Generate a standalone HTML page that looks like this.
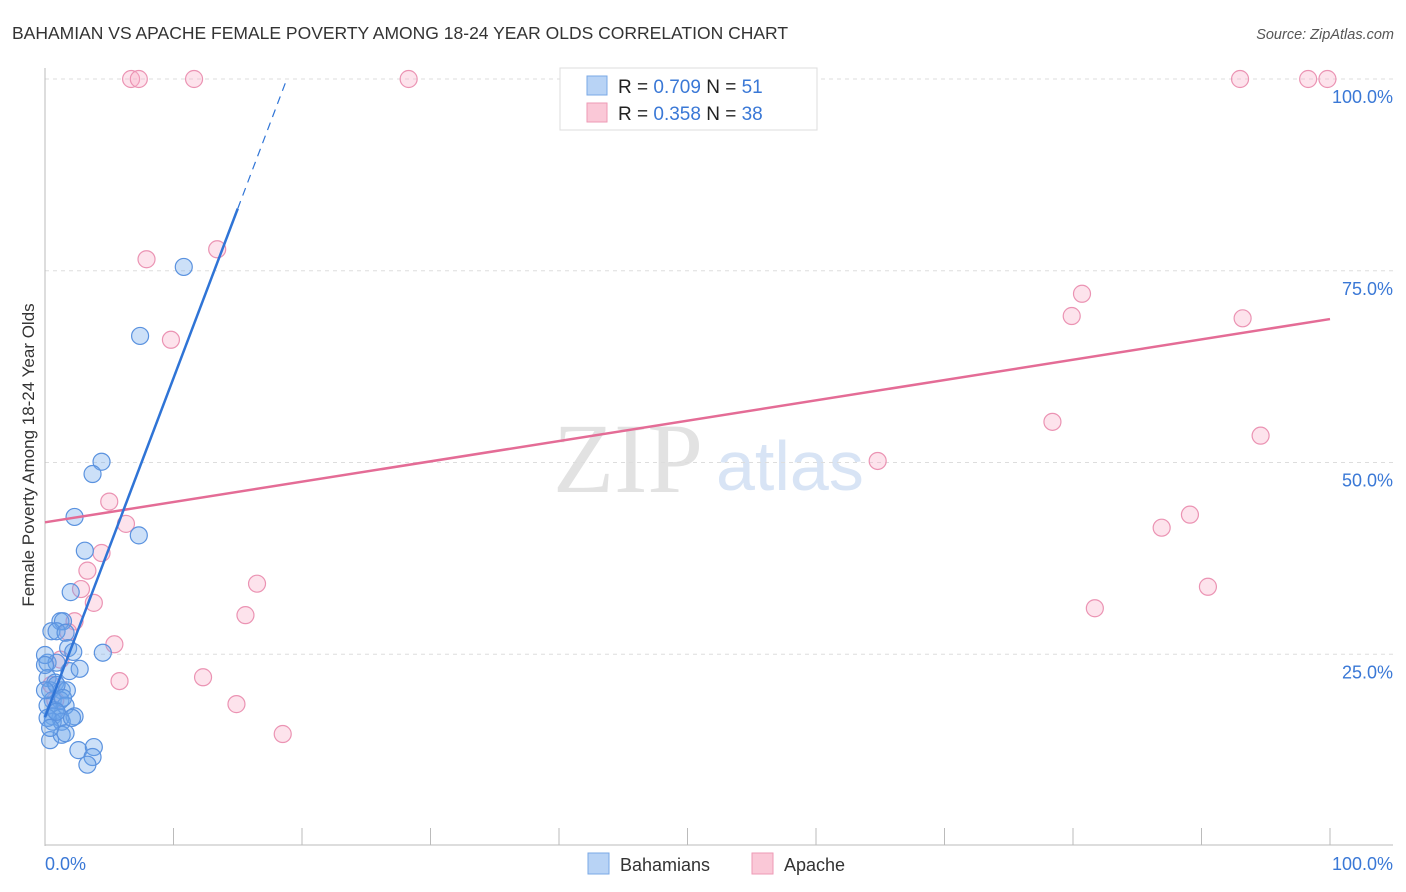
<!DOCTYPE html>
<html><head><meta charset="utf-8"><style>
body{margin:0;background:#fff;font-family:"Liberation Sans",sans-serif;}
svg{display:block}
</style></head><body>
<svg id="chart" width="1406" height="892">
<text x="12" y="39" font-size="17.5" fill="#333">BAHAMIAN VS APACHE FEMALE POVERTY AMONG 18-24 YEAR OLDS CORRELATION CHART</text>
<text x="1394" y="39" font-size="14.5" fill="#555" font-style="italic" text-anchor="end">Source: ZipAtlas.com</text>
<g>
<text x="553" y="492" font-size="100" font-family="Liberation Serif" fill="#e2e2e2">ZIP</text>
<text x="716" y="490" font-size="70" fill="#d8e4f5">atlas</text>
</g>
<g id="grid"></g>
<g id="axes"></g>
<g id="points"></g>
<g id="trends"></g>
<text transform="translate(34,455) rotate(-90)" font-size="17" fill="#333" text-anchor="middle">Female Poverty Among 18-24 Year Olds</text>
<g>
<rect x="560" y="68" width="257" height="62" fill="#fff" stroke="#ddd"/>
<rect x="587" y="76" width="20" height="19" fill="#b8d3f5" stroke="#7aa8e6"/>
<rect x="587" y="103" width="20" height="19" fill="#fac8d7" stroke="#ee9ab6"/>
<text x="618" y="93" font-size="19" fill="#222">R = <tspan fill="#3a78d6">0.709</tspan>   N =  <tspan fill="#3a78d6">51</tspan></text>
<text x="618" y="120" font-size="19" fill="#222">R =  <tspan fill="#3a78d6">0.358</tspan>   N = <tspan fill="#3a78d6">38</tspan></text>
</g>
<g>
<rect x="588" y="853" width="21" height="21" fill="#b8d3f5" stroke="#7aa8e6"/>
<text x="620" y="871" font-size="18" fill="#333">Bahamians</text>
<rect x="752" y="853" width="21" height="21" fill="#fac8d7" stroke="#ee9ab6"/>
<text x="784" y="871" font-size="18" fill="#333">Apache</text>
</g>
</svg>
<script>
const yTicks=[25,50,75,100];
const yTickLabels=["25.0%","50.0%","75.0%","100.0%"];
const xTickCount=10;
const blueX=[10.8,7.4,4.4,3.7,2.3,7.3,3.1,2.0,1.2,1.4,0.5,0.9,1.6,0.2,0.9,1.8,2.2,0.2,0.8,1.9,2.7,4.5,0.4,1.3,1.7,0.6,1.2,0.2,0.8,1.6,0.6,1.2,2.3,0.6,1.3,2.1,0.4,1.3,1.6,2.6,3.8,3.7,3.3,0,0,0.2,0.9,0,1.4,0.4,0.9];
const blueY=[75.5,66.5,50.1,48.5,42.9,40.5,38.5,33.1,29.3,29.3,28.0,28.0,27.8,23.9,23.9,25.8,25.3,21.9,21.3,22.8,23.1,25.2,20.3,20.3,20.3,19.0,19.0,18.3,17.7,18.3,16.9,16.7,16.9,16.2,16.2,16.7,13.8,14.5,14.7,12.5,12.9,11.6,10.6,24.9,23.6,16.7,21.0,20.3,19.3,15.4,17.5];
const pinkX=[6.7,7.3,11.6,28.3,93.0,98.3,99.8,7.9,13.4,9.8,80.7,79.9,93.2,78.4,94.6,64.8,5.0,6.3,4.4,3.3,2.8,3.8,16.5,15.6,2.3,1.8,5.4,12.3,5.8,14.9,18.5,86.9,89.1,81.7,90.5,1.2,0.5,0.8];
const pinkY=[100,100,100,100,100,100,100,76.5,77.8,66.0,72.0,69.1,68.8,55.3,53.5,50.2,44.9,42.0,38.2,35.9,33.5,31.7,34.2,30.1,29.3,27.9,26.3,22.0,21.5,18.5,14.6,41.5,43.2,31.0,33.8,24.3,21.0,19.0];
const blueTrend=[[0,16.8],[15.0,83.1]];
const blueTrendDash=[[15.0,83.1],[18.8,99.9]];
const pinkTrend=[[0,42.2],[100,68.7]];
const NS="http://www.w3.org/2000/svg";
const X0=45,X1=1330,Y0=846,Y100=79;
function sx(v){return X0+(X1-X0)*v/100;}
function sy(v){return Y0-(Y0-Y100)*v/100;}
function mk(tag,attrs,parent){const e=document.createElementNS(NS,tag);for(const k in attrs)e.setAttribute(k,attrs[k]);parent.appendChild(e);return e;}
const grid=document.getElementById('grid'),axes=document.getElementById('axes'),pts=document.getElementById('points'),tr=document.getElementById('trends');
yTicks.forEach((t,i)=>{
 const l=mk('line',{x1:45,x2:1393,y1:sy(t),y2:sy(t),stroke:'#ddd','stroke-dasharray':'4,4'},grid);
 
 
 const tx=mk('text',{x:1393,y:sy(t)+24,'font-size':18,fill:'#3a78d6','text-anchor':'end'},axes);
 tx.textContent=yTickLabels[i];
 
 
});
let a=mk('line',{x1:45,x2:45,y1:68,y2:846,stroke:'#bbb'},axes);


a=mk('line',{x1:45,x2:1393,y1:845,y2:845,stroke:'#bbb'},axes);


for(let i=1;i<=xTickCount;i++){
 const t=mk('line',{x1:sx(i*10),x2:sx(i*10),y1:828,y2:845,stroke:'#bbb'},axes);
 
 
}
let xl=mk('text',{x:45,y:870,'font-size':18,fill:'#3a78d6'},axes);xl.textContent='0.0%';


xl=mk('text',{x:1393,y:870,'font-size':18,fill:'#3a78d6','text-anchor':'end'},axes);xl.textContent='100.0%';


function dots(xs,ys,fill,stroke,name){
 xs.forEach((v,i)=>{
  const c=mk('circle',{cx:sx(v),cy:sy(ys[i]),r:8.5,fill:fill,stroke:stroke,'stroke-width':1.2},pts);
  
  
 });
}
dots(pinkX,pinkY,'rgba(248,175,200,0.35)','#eb93b3','apache-point');
dots(blueX,blueY,'rgba(110,165,235,0.35)','#5a92df','bahamian-point');
function line(p,stroke,w,dash,name){
 const l=mk('line',{x1:sx(p[0][0]),y1:sy(p[0][1]),x2:sx(p[1][0]),y2:sy(p[1][1]),stroke:stroke,'stroke-width':w},tr);
 if(dash)l.setAttribute('stroke-dasharray',dash);
 
 
}
line(pinkTrend,'#e46c96',2.5,null,'apache-trendline');
line(blueTrend,'#2f74d6',2.5,null,'bahamian-trendline');
line(blueTrendDash,'#2f74d6',1.2,'8,6','bahamian-trendline-extension');
</script>
</body></html>
